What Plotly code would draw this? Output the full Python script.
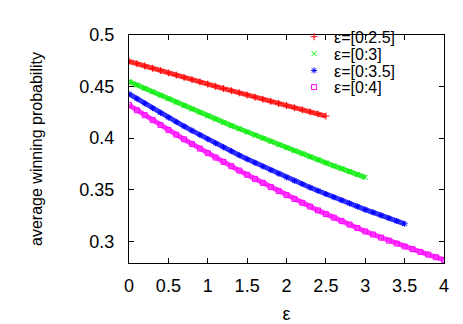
import plotly.graph_objects as go

# epsilon sample points and average winning probability per range
eps_25 = [i / 10 for i in range(26)]
eps_3 = [i / 10 for i in range(31)]
eps_35 = [i / 10 for i in range(36)]
eps_4 = [i / 10 for i in range(41)]

prob_25 = [0.4745, 0.4722, 0.4700, 0.4677, 0.4655, 0.4633, 0.4611, 0.4589, 0.4567, 0.4545,
           0.4524, 0.4502, 0.4481, 0.4460, 0.4439, 0.4418, 0.4397, 0.4377, 0.4356, 0.4336,
           0.4315, 0.4295, 0.4274, 0.4254, 0.4234, 0.4214]
prob_3 = [0.4550, 0.4516, 0.4482, 0.4448, 0.4414, 0.4380, 0.4347, 0.4314, 0.4281, 0.4248,
          0.4215, 0.4184, 0.4153, 0.4122, 0.4091, 0.4060, 0.4029, 0.3998, 0.3967, 0.3936,
          0.3905, 0.3876, 0.3847, 0.3818, 0.3789, 0.3760, 0.3732, 0.3704, 0.3676, 0.3648,
          0.3620]
prob_35 = [0.4430, 0.4383, 0.4337, 0.4291, 0.4245, 0.4200, 0.4157, 0.4115, 0.4073, 0.4031,
           0.3990, 0.3951, 0.3912, 0.3874, 0.3835, 0.3797, 0.3761, 0.3726, 0.3690, 0.3655,
           0.3620, 0.3587, 0.3555, 0.3522, 0.3490, 0.3458, 0.3428, 0.3398, 0.3368, 0.3338,
           0.3308, 0.3280, 0.3252, 0.3225, 0.3197, 0.3170]
prob_4 = [0.4320, 0.4271, 0.4223, 0.4175, 0.4127, 0.4080, 0.4034, 0.3989, 0.3944, 0.3899,
          0.3855, 0.3812, 0.3770, 0.3728, 0.3686, 0.3645, 0.3605, 0.3566, 0.3526, 0.3487,
          0.3448, 0.3411, 0.3374, 0.3337, 0.3300, 0.3264, 0.3230, 0.3196, 0.3162, 0.3129,
          0.3096, 0.3066, 0.3036, 0.3007, 0.2978, 0.2950, 0.2924, 0.2898, 0.2872, 0.2846,
          0.2820]

names = ["ε=[0:2.5]", "ε=[0:3]", "ε=[0:3.5]", "ε=[0:4]"]
colors = ["#ff0000", "#00ee00", "#0000ff", "#ff00ff"]
symbols = ["cross-thin-open", "x-thin-open", "asterisk-open", "square-open"]
xs = [eps_25, eps_3, eps_35, eps_4]
ys = [prob_25, prob_3, prob_35, prob_4]

x_ticks = [0, 0.5, 1, 1.5, 2, 2.5, 3, 3.5, 4]
x_labels = ["0", "0.5", "1", "1.5", "2", "2.5", "3", "3.5", "4"]
y_ticks = [0.3, 0.35, 0.4, 0.45, 0.5]
y_labels = ["0.3", "0.35", "0.4", "0.45", "0.5"]

fig = go.Figure()

# thick band under the markers (gnuplot draws very dense points)
for x, y, c in zip(xs, ys, colors):
    fig.add_trace(go.Scatter(x=x, y=y, mode="lines", showlegend=False,
                             line=dict(color=c, width=5), opacity=0.8))

# one legend box per series so the rows can sit as tight as gnuplot's key
legend_ids = ["legend", "legend2", "legend3", "legend4"]
for x, y, c, s, n, lg in zip(xs, ys, colors, symbols, names, legend_ids):
    fig.add_trace(go.Scatter(x=x, y=y, mode="markers", name=n, legend=lg,
                             marker=dict(symbol=s, size=5, color=c,
                                         line=dict(color=c, width=1))))

fnt = "Liberation Sans, Arial, sans-serif"
key = dict(x=0.524, xanchor="left", yanchor="middle", bgcolor="rgba(0,0,0,0)",
           font=dict(size=16), itemwidth=30)

fig.update_layout(
    width=463, height=324,
    margin=dict(l=121, r=27, t=22, b=58),
    paper_bgcolor="white", plot_bgcolor="white",
    font=dict(family=fnt, size=18, color="black"),
    legend=dict(key, y=0.992),
    legend2=dict(key, y=0.918),
    legend3=dict(key, y=0.844),
    legend4=dict(key, y=0.771),
)
fig.update_xaxes(range=[0, 4], tickvals=x_ticks, ticktext=x_labels,
                 ticks="inside", ticklen=5, tickcolor="black",
                 showline=True, linecolor="black", linewidth=1, mirror="ticks",
                 showgrid=False, zeroline=False, ticklabelstandoff=6,
                 title=dict(text="ε", font=dict(size=18), standoff=12))
fig.update_yaxes(range=[0.279, 0.5], tickvals=y_ticks, ticktext=y_labels,
                 ticks="inside", ticklen=5, tickcolor="black",
                 showline=True, linecolor="black", linewidth=1, mirror="ticks",
                 showgrid=False, zeroline=False, ticklabelstandoff=10,
                 title=dict(text="average winning probability", font=dict(size=16), standoff=32))

fig.write_html("out.html")
